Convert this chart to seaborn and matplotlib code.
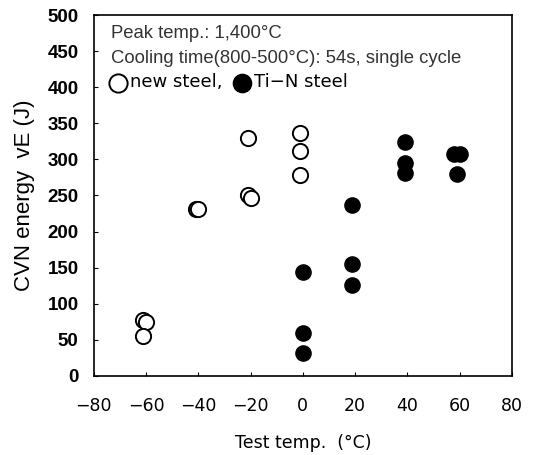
import pandas as pd
import seaborn as sns
import matplotlib.pyplot as plt

# Test temperature (°C) and CVN energy (J)
new_temp = [-61, -60, -61, -41, -40, -21, -20, -21, -1, -1, -1]
new_cvn = [78, 75, 55, 231, 231, 251, 246, 329, 337, 311, 278]

tin_temp = [0, 0, 0, 19, 19, 19, 39, 39, 39, 58, 60, 59]
tin_cvn = [144, 60, 31, 237, 155, 126, 324, 295, 281, 308, 308, 280]

x_ticks = [-80, -60, -40, -20, 0, 20, 40, 60, 80]
y_ticks = [0, 50, 100, 150, 200, 250, 300, 350, 400, 450, 500]

df_new = pd.DataFrame({'temp': new_temp, 'cvn': new_cvn})
df_tin = pd.DataFrame({'temp': tin_temp, 'cvn': tin_cvn})

sns.set_style('ticks')
plt.rcParams['font.family'] = ['Liberation Sans', 'DejaVu Sans']
plt.rcParams['text.color'] = 'black'
plt.rcParams['axes.labelcolor'] = 'black'
plt.rcParams['xtick.color'] = 'black'
plt.rcParams['ytick.color'] = 'black'

fig = plt.figure(figsize=(5.36, 4.55), dpi=100)
ax = fig.add_axes([0.175, 0.174, 0.78, 0.793])

sns.scatterplot(data=df_new, x='temp', y='cvn', color='white', edgecolor='black',
                linewidth=1.4, s=120, label='new steel,', ax=ax, zorder=3)
sns.scatterplot(data=df_tin, x='temp', y='cvn', color='black', edgecolor='black',
                linewidth=1.0, s=120, label='Ti\u2212N steel', ax=ax, zorder=3)

ax.set_xlim(-80, 80)
ax.set_ylim(0, 500)
ax.set_xticks(x_ticks)
ax.set_yticks(y_ticks)
ax.set_xticklabels([str(t).replace('-', '\u2212') for t in x_ticks],
                   fontsize=12.5, family='DejaVu Sans')
ax.set_yticklabels([str(t) for t in y_ticks], fontsize=13.5, fontweight='bold')
ax.tick_params(direction='in', length=3, width=0.8)
ax.tick_params(axis='y', pad=11)
ax.tick_params(axis='x', pad=15)

for sp in ax.spines.values():
    sp.set_linewidth(1.2)
    sp.set_color('black')

ax.set_xlabel('Test temp.  (°C)', fontsize=12.5, family='DejaVu Sans', labelpad=14)
ax.set_ylabel('CVN energy  vE (J)', fontsize=16, labelpad=9)

ax.text(0.04, 0.972, 'Peak temp.: 1,400°C', transform=ax.transAxes,
        fontsize=13.3, color='#333333', va='top')
ax.text(0.04, 0.902, 'Cooling time(800-500°C): 54s, single cycle', transform=ax.transAxes,
        fontsize=13.3, color='#333333', va='top')

ax.legend(loc='upper left', bbox_to_anchor=(0.01, 0.868), ncol=2, frameon=False,
          handletextpad=0.15, columnspacing=0.6, borderaxespad=0.2, handlelength=1.0,
          prop={'family': 'DejaVu Sans', 'size': 13}, markerscale=1.2)

plt.savefig('out.png', dpi=100)
